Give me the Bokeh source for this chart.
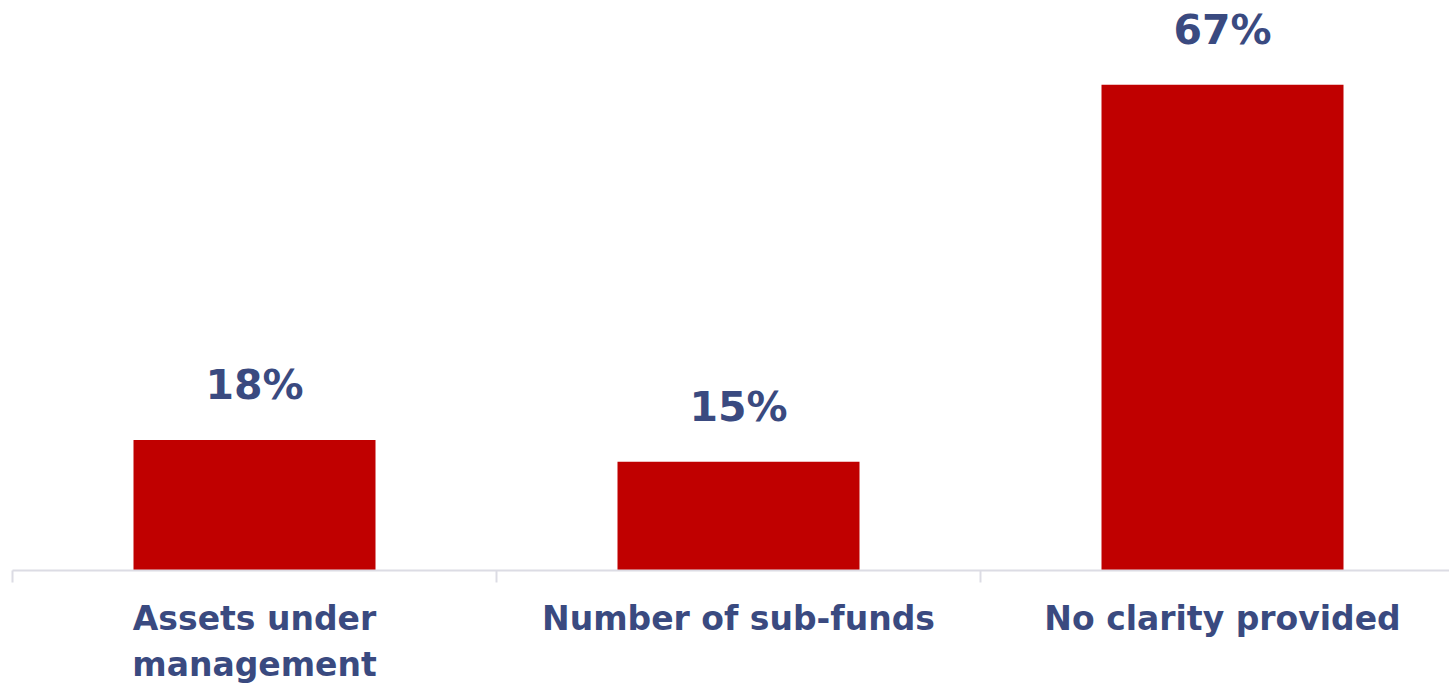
from bokeh.plotting import figure
from bokeh.models import ColumnDataSource, Range1d
from bokeh.core.properties import value
from bokeh.embed import file_html
from bokeh.resources import INLINE

categories = ["Assets under\nmanagement", "Number of sub-funds", "No clarity provided"]
values = [18, 15, 67]
value_labels = ["18%", "15%", "67%"]

BAR_COLOR = "#C00000"
TEXT_COLOR = "#3A4A80"
AXIS_COLOR = "#DCDCE4"
FONT = "DejaVu Sans"

W, H = 1449, 683
px_per_unit_x = 484.0
px_per_pct = 7.25
left_pad = 12
baseline_from_top = 570

n = len(categories)
centers = [i + 0.5 for i in range(n)]

p = figure(width=W, height=H, output_backend="svg", toolbar_location=None,
           x_axis_location=None, y_axis_location=None,
           min_border_left=0, min_border_right=0, min_border_top=0, min_border_bottom=0,
           x_range=Range1d(-left_pad / px_per_unit_x, (W - left_pad) / px_per_unit_x),
           y_range=Range1d(-(H - baseline_from_top) / px_per_pct, baseline_from_top / px_per_pct))
p.outline_line_color = None
p.xgrid.visible = False
p.ygrid.visible = False
p.background_fill_color = "white"
p.border_fill_color = "white"

src = ColumnDataSource(dict(x=centers, top=values, lab=value_labels, cat=categories,
                            zero=[0] * n))
p.vbar(x="x", top="top", width=0.5, source=src, fill_color=BAR_COLOR, line_color=None)

# baseline and boundary ticks
bounds = list(range(n + 1))
p.segment(x0=[0], y0=[0], x1=[n], y1=[0], line_color=AXIS_COLOR, line_width=2)
p.segment(x0=bounds, y0=[0] * len(bounds), x1=bounds,
          y1=[-12 / px_per_pct] * len(bounds), line_color=AXIS_COLOR, line_width=2)

# value labels
p.text(x="x", y="top", text="lab", source=src, text_align="center",
       text_baseline="alphabetic", y_offset=-55,
       text_font=value(FONT), text_font_style="bold", text_font_size="41px",
       text_color=TEXT_COLOR)

# category labels
p.text(x="x", y="zero", text="cat", source=src, text_align="center",
       text_baseline="top", y_offset=28, text_line_height=1.2,
       text_font=value(FONT), text_font_style="bold", text_font_size="33px",
       text_color=TEXT_COLOR)

open("out.html", "w").write(file_html(p, INLINE))
